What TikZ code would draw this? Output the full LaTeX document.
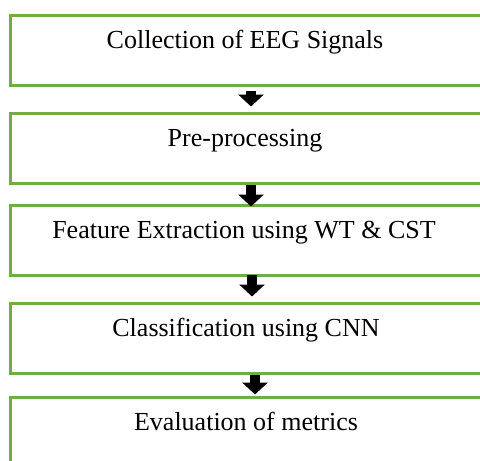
\documentclass[tikz,border=0pt]{standalone}
\usepackage{fontspec}
\setmainfont{Liberation Serif}
\usetikzlibrary{arrows.meta}
\definecolor{boxgreen}{HTML}{70AD47}
\tikzset{
  stage/.style={draw=boxgreen, line width=3pt, fill=white, inner sep=0pt,
    minimum width=472pt, minimum height=70pt},
  caption/.style={anchor=base, inner sep=0pt, font=\fontsize{26}{30}\selectfont},
  flow/.style={draw=black, line width=10pt,
    -{Triangle[width=25pt, length=12pt]}}
}
\begin{document}
\begin{tikzpicture}[x=1pt, y=-1pt]
  \useasboundingbox (0,0) rectangle (480,461);
  \clip (0,0) rectangle (480,461);
  \fill[white] (0,0) rectangle (480,461);

  % process stages
  \node[stage] (s1) at (246,50)  {};
  \node[stage] (s2) at (246,148) {};
  \node[stage] (s3) at (246,240) {};
  \node[stage] (s4) at (246,338) {};
  \node[stage] (s5) at (246,432) {};

  % stage titles, set near the top of each box
  \node[caption] (t1) at ([shift={(-1,35)}]s1.north) {Collection of EEG Signals};
  \node[caption] (t2) at ([shift={(-1,35)}]s2.north) {Pre-processing};
  \node[caption] (t3) at ([shift={(-2,35)}]s3.north) {Feature Extraction using WT \& CST};
  \node[caption] (t4) at ([shift={(0,35)}]s4.north) {Classification using CNN};
  \node[caption] (t5) at ([shift={(0,35)}]s5.north) {Evaluation of metrics};

  % block arrows between stages
  \draw[flow] ([shift={(5,4)}]s1.south)  -- ([shift={(5,-5)}]s2.north);
  \draw[flow] ([shift={(5,0)}]s2.south)  -- ([shift={(5,3)}]s3.north);
  \draw[flow] ([shift={(6,-2)}]s3.south) -- ([shift={(6,-5)}]s4.north);
  \draw[flow] ([shift={(9,0)}]s4.south)  -- ([shift={(9,-1)}]s5.north);
\end{tikzpicture}
\end{document}
